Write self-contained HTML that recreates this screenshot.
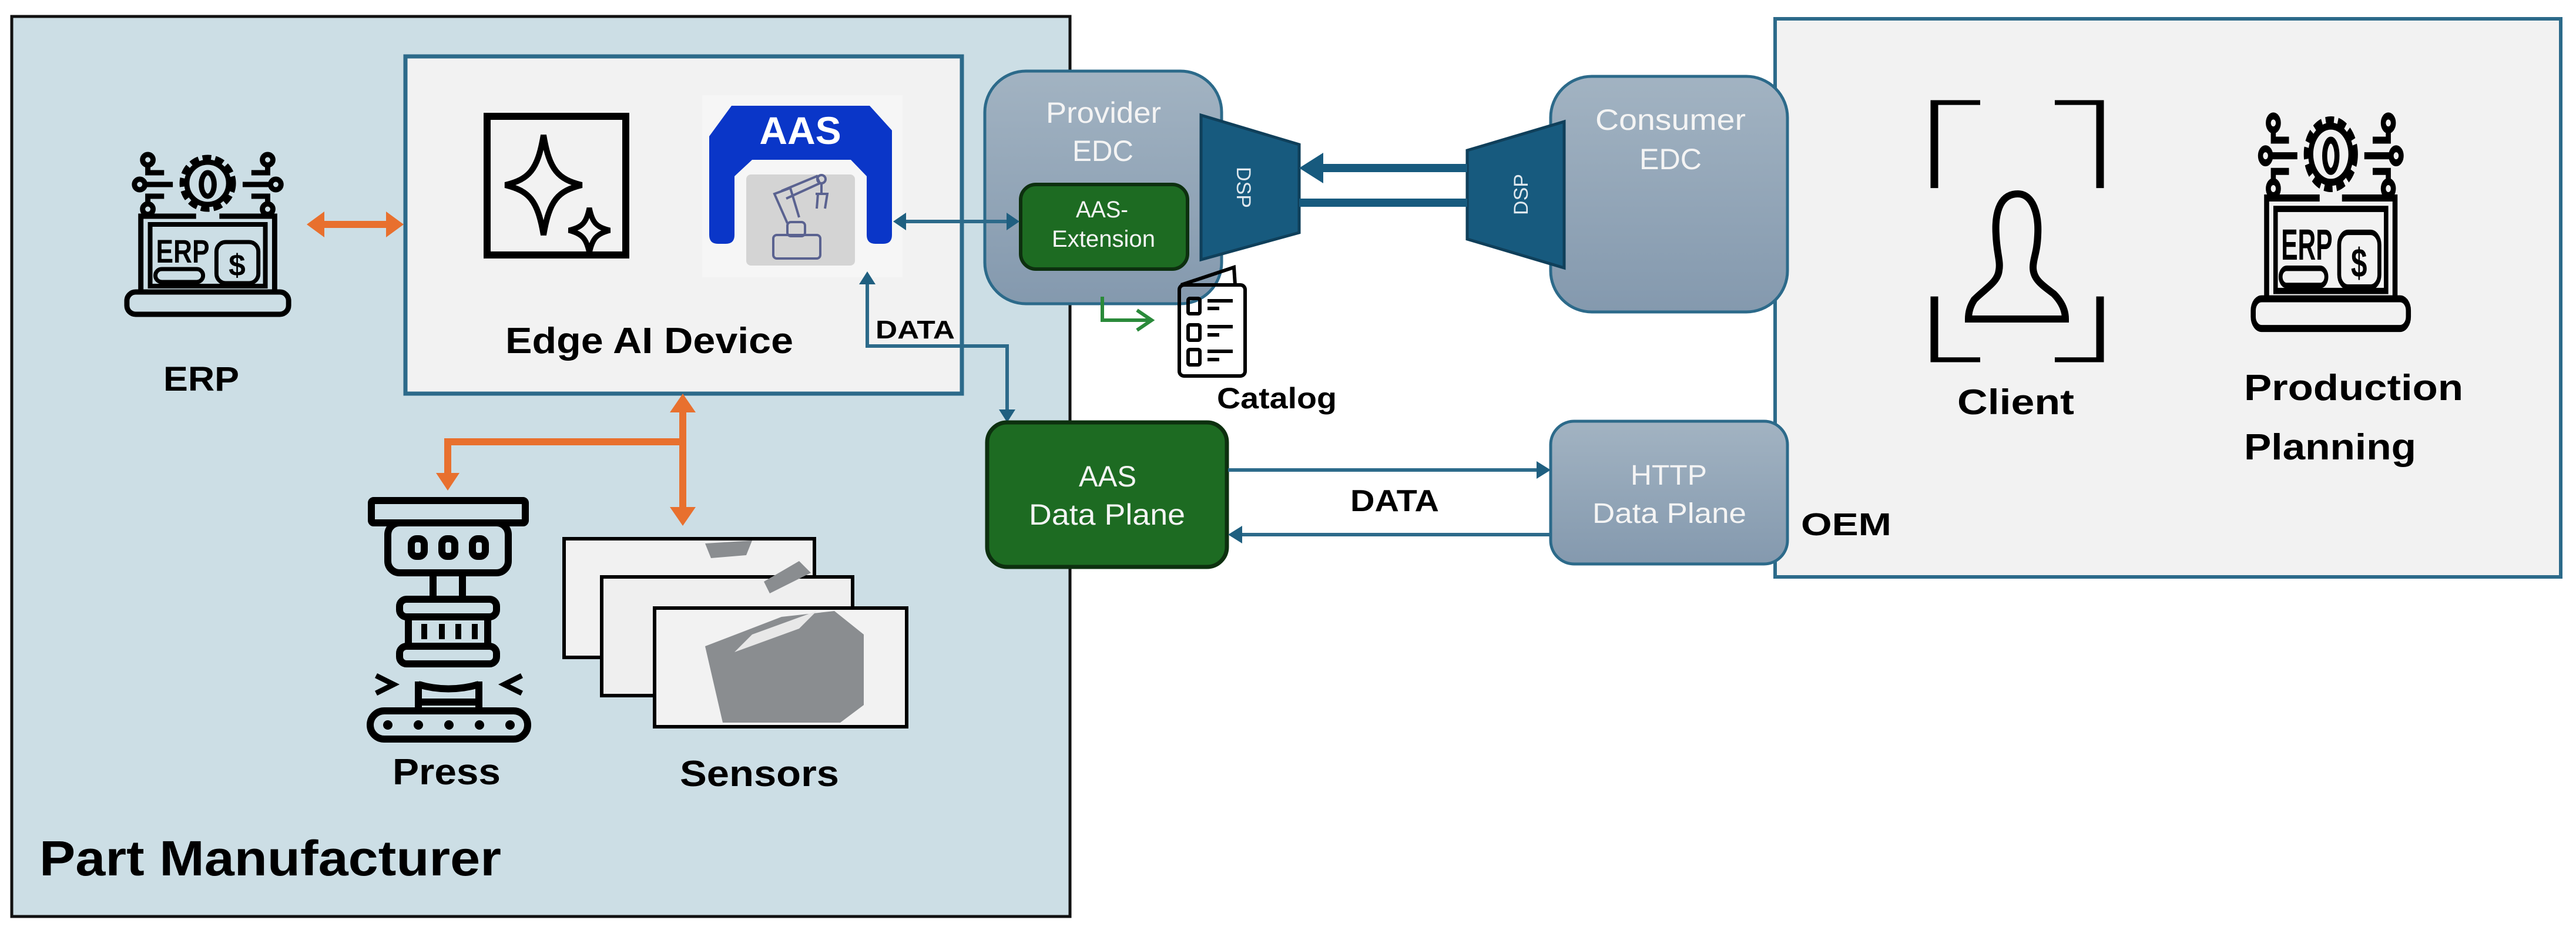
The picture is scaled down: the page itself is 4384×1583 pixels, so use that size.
<!DOCTYPE html>
<html><head><meta charset="utf-8"><style>
html,body{margin:0;padding:0;background:#fff}
svg{display:block}
text{font-family:"Liberation Sans",sans-serif}
.b{font-weight:bold;fill:#000}
.w{fill:#f4f4f4}
</style></head><body>
<svg width="4384" height="1583" viewBox="0 0 4384 1583" xmlns="http://www.w3.org/2000/svg">
<defs>
<linearGradient id="edc" x1="0" y1="0" x2="0" y2="1"><stop offset="0" stop-color="#a2b3c2"/><stop offset="1" stop-color="#8499ae"/></linearGradient>
<g id="erp">
<g fill="none" stroke="#000" stroke-width="9">
<circle cx="145" cy="50" r="44" stroke-dasharray="15 7"/><circle cx="145" cy="50" r="36"/><ellipse cx="145" cy="52" rx="11" ry="20"/>
<circle cx="42" cy="10" r="9"/><circle cx="28" cy="52" r="9"/><circle cx="42" cy="94" r="9"/>
<path d="M42,19 L42,32 L70,32 M37,52 L85,52 M42,85 L42,72 L70,72"/>
<circle cx="248" cy="10" r="9"/><circle cx="262" cy="52" r="9"/><circle cx="248" cy="94" r="9"/>
<path d="M248,19 L248,32 L220,32 M253,52 L205,52 M248,85 L248,72 L220,72"/>
<path d="M125,106 L30,106 L30,235 M165,106 L260,106 L260,235"/>
<rect x="46" y="120" width="198" height="105" stroke-width="8"/>
<rect x="6" y="235" width="278" height="38" rx="15"/>
<rect x="55" y="196" width="82" height="22" rx="11" stroke-width="7"/>
<rect x="160" y="150" width="72" height="70" rx="16" stroke-width="7"/>
</g>
<text x="56" y="185" font-size="56" font-weight="bold" fill="#000" textLength="92" lengthAdjust="spacingAndGlyphs">ERP</text>
<text x="181" y="207" font-size="52" font-weight="bold" fill="#000">$</text>
</g>
</defs>

<rect x="20" y="28" width="1801" height="1532" fill="#ccdee5" stroke="#111" stroke-width="5"/>
<rect x="3021" y="32" width="1337" height="950" fill="#f2f2f2" stroke="#2c6a8a" stroke-width="6"/>

<rect x="690" y="96" width="947" height="574" fill="#f2f2f2" stroke="#2c6a8a" stroke-width="7"/>
<rect x="829" y="198" width="236" height="236" fill="none" stroke="#000" stroke-width="12"/>
<path d="M925,270 C935,330 950,345 990,355 C950,365 935,380 925,440 C915,380 900,365 860,355 C900,345 915,330 925,270Z" fill="none" stroke="#000" stroke-width="10" transform="translate(0,-40)"/>
<path d="M1003,360 C1008,385 1015,393 1038,398 C1015,404 1008,412 1003,437 C998,412 991,404 968,398 C991,393 998,385 1003,360Z" fill="none" stroke="#000" stroke-width="9" transform="translate(0,-6)"/>
<rect x="1195" y="162" width="341" height="310" fill="#f6f6f6"/>
<path d="M1207,232 L1245,180 L1480,180 L1518,222 L1518,400 Q1518,415 1503,415 L1490,415 Q1475,415 1475,400 L1475,300 L1448,272 L1280,272 L1250,300 L1250,400 Q1250,415 1235,415 L1222,415 Q1207,415 1207,400 Z" fill="#0a36c8"/>
<text x="1362" y="245" font-size="66" font-weight="bold" fill="#fff" text-anchor="middle">AAS</text>
<rect x="1270" y="297" width="185" height="155" rx="8" fill="#d4d4d4"/>
<g fill="none" stroke="#5a6290" stroke-width="4">
<rect x="1316" y="400" width="80" height="40" rx="6"/><rect x="1340" y="378" width="30" height="24" rx="6"/>
<path d="M1340,380 L1318,330 L1345,320 L1360,370"/><path d="M1330,325 L1390,300 L1395,312 L1338,338"/>
<circle cx="1398" cy="305" r="7"/><path d="M1398,312 L1398,330 M1388,330 L1408,330 L1404,355 M1392,330 L1390,355"/>
</g>
<text x="860" y="601" class="b" font-size="62" textLength="490" lengthAdjust="spacingAndGlyphs">Edge AI Device</text>

<use href="#erp" transform="translate(210,262) scale(0.99,1.0)"/>
<text x="278" y="665" class="b" font-size="58" textLength="129" lengthAdjust="spacingAndGlyphs">ERP</text>

<line x1="540" y1="382" x2="670" y2="382" stroke="#e8702e" stroke-width="12"/>
<path d="M522,382 L552,360 L552,404Z M687,382 L657,360 L657,404Z" fill="#e8702e"/>

<path d="M1162,690 L1162,875 M1162,752 L762,752 L762,815" fill="none" stroke="#e8702e" stroke-width="12"/>
<path d="M1162,670 L1140,702 L1184,702Z M1162,895 L1140,863 L1184,863Z M762,835 L742,805 L782,805Z" fill="#e8702e"/>

<g fill="none" stroke="#000" stroke-width="12">
<rect x="632" y="852" width="262" height="38" rx="4"/>
<rect x="660" y="890" width="205" height="85" rx="20"/>
<rect x="700" y="917" width="22" height="30" rx="9"/><rect x="752" y="917" width="22" height="30" rx="9"/><rect x="804" y="917" width="22" height="30" rx="9"/>
<rect x="737" y="975" width="50" height="45"/>
<rect x="680" y="1020" width="165" height="30" rx="12"/>
<rect x="695" y="1050" width="135" height="50"/>
<rect x="680" y="1100" width="165" height="30" rx="12"/>
<path d="M722,1062 L722,1088 M752,1062 L752,1088 M780,1062 L780,1088 M808,1062 L808,1088" stroke-width="10"/>
<path d="M712,1160 L712,1210 M815,1160 L815,1210 M712,1165 Q763,1180 815,1165 M712,1195 L815,1195"/>
<path d="M640,1150 L670,1165 L640,1180 M888,1150 L858,1165 L888,1180" stroke-width="9"/>
<rect x="630" y="1210" width="268" height="48" rx="24"/>
</g>
<g fill="#000"><circle cx="660" cy="1234" r="8"/><circle cx="712" cy="1234" r="8"/><circle cx="764" cy="1234" r="8"/><circle cx="816" cy="1234" r="8"/><circle cx="868" cy="1234" r="8"/></g>
<text x="668" y="1335" class="b" font-size="62" textLength="184" lengthAdjust="spacingAndGlyphs">Press</text>

<g stroke="#000" stroke-width="6">
<rect x="960" y="917" width="426" height="202" fill="#f1f1f1"/>
<rect x="1024" y="982" width="427" height="202" fill="#efefef"/>
<rect x="1114" y="1035" width="429" height="202" fill="#f2f2f2"/>
</g>
<path d="M1230,1230 L1200,1100 L1330,1050 L1420,1040 L1470,1080 L1470,1200 L1430,1230Z" fill="#8a8d90"/>
<path d="M1250,1110 L1360,1070 L1390,1040 L1280,1080Z" fill="#e8e8e8"/>
<path d="M1300,990 L1360,955 L1380,975 L1310,1010Z" fill="#8a8d90"/>
<path d="M1200,925 L1280,920 L1270,945 L1210,950Z" fill="#8a8d90"/>
<text x="1157" y="1338" class="b" font-size="62" textLength="271" lengthAdjust="spacingAndGlyphs">Sensors</text>

<text x="67" y="1490" class="b" font-size="84" textLength="786" lengthAdjust="spacingAndGlyphs">Part Manufacturer</text>

<rect x="1676" y="121" width="403" height="396" rx="70" fill="url(#edc)" stroke="#2c6a8a" stroke-width="5"/>
<text x="1780" y="209" class="w" font-size="50" textLength="196" lengthAdjust="spacingAndGlyphs">Provider</text>
<text x="1825" y="274" class="w" font-size="50" textLength="104" lengthAdjust="spacingAndGlyphs">EDC</text>
<rect x="1737" y="314" width="284" height="144" rx="26" fill="#1d6b22" stroke="#0d300f" stroke-width="6"/>
<text x="1831" y="370" class="w" font-size="40" textLength="89" lengthAdjust="spacingAndGlyphs">AAS-</text>
<text x="1790" y="420" class="w" font-size="40" textLength="176" lengthAdjust="spacingAndGlyphs">Extension</text>
<path d="M2044,196 L2211,246 L2211,396 L2044,442Z" fill="#175a7e" stroke="#0f3f5a" stroke-width="5"/>
<text transform="translate(2105,319) rotate(90)" font-size="34" text-anchor="middle" fill="#dfe8ee">DSP</text>
<rect x="2639" y="130" width="403" height="401" rx="70" fill="url(#edc)" stroke="#2c6a8a" stroke-width="5"/>
<text x="2715" y="221" class="w" font-size="50" textLength="256" lengthAdjust="spacingAndGlyphs">Consumer</text>
<text x="2790" y="288" class="w" font-size="50" textLength="106" lengthAdjust="spacingAndGlyphs">EDC</text>
<path d="M2662,207 L2497,256 L2497,407 L2662,456Z" fill="#175a7e" stroke="#0f3f5a" stroke-width="5"/>
<text transform="translate(2600,331) rotate(-90)" font-size="34" text-anchor="middle" fill="#dfe8ee">DSP</text>
<line x1="2497" y1="286" x2="2240" y2="286" stroke="#175a7e" stroke-width="14"/>
<path d="M2211,286 L2252,260 L2252,312Z" fill="#175a7e"/>
<line x1="2211" y1="345" x2="2497" y2="345" stroke="#175a7e" stroke-width="14"/>

<line x1="1535" y1="377" x2="1715" y2="377" stroke="#2c6a8a" stroke-width="6"/>
<path d="M1520,377 L1542,362 L1542,392Z M1735,377 L1713,362 L1713,392Z" fill="#1f5f80"/>

<path d="M1876,505 L1876,545 L1955,545" fill="none" stroke="#2a8a3a" stroke-width="6"/>
<path d="M1935,528 L1960,545 L1935,562" fill="none" stroke="#2a8a3a" stroke-width="6"/>
<g fill="none" stroke="#000" stroke-width="6">
<path d="M2010,485 L2100,455 L2102,485"/>
<rect x="2007" y="485" width="112" height="155" rx="8"/>
<rect x="2022" y="508" width="20" height="26" rx="3"/><rect x="2022" y="553" width="20" height="26" rx="3"/><rect x="2022" y="595" width="20" height="26" rx="3"/>
<path d="M2055,512 L2098,512 M2055,525 L2075,525 M2055,556 L2098,556 M2055,570 L2075,570 M2055,598 L2098,598 M2055,612 L2075,612"/>
</g>
<text x="2071" y="695" class="b" font-size="50" textLength="204" lengthAdjust="spacingAndGlyphs">Catalog</text>

<path d="M1476,480 L1476,589 L1714,589 L1714,700" fill="none" stroke="#2c6a8a" stroke-width="6"/>
<path d="M1476,462 L1462,484 L1490,484Z M1714,719 L1700,697 L1728,697Z" fill="#1f5f80"/>
<text x="1490" y="576" class="b" font-size="44" textLength="135" lengthAdjust="spacingAndGlyphs">DATA</text>

<rect x="1680" y="719" width="408" height="246" rx="34" fill="#1d6b22" stroke="#0d300f" stroke-width="7"/>
<text x="1836" y="828" class="w" font-size="50" textLength="98" lengthAdjust="spacingAndGlyphs">AAS</text>
<text x="1751" y="893" class="w" font-size="50" textLength="266" lengthAdjust="spacingAndGlyphs">Data Plane</text>
<rect x="2639" y="717" width="403" height="243" rx="40" fill="url(#edc)" stroke="#2c6a8a" stroke-width="5"/>
<text x="2775" y="825" class="w" font-size="48" textLength="130" lengthAdjust="spacingAndGlyphs">HTTP</text>
<text x="2710" y="890" class="w" font-size="48" textLength="262" lengthAdjust="spacingAndGlyphs">Data Plane</text>
<line x1="2090" y1="800" x2="2620" y2="800" stroke="#2c6a8a" stroke-width="6"/>
<path d="M2639,800 L2615,785 L2615,815Z" fill="#1f5f80"/>
<line x1="2110" y1="910" x2="2639" y2="910" stroke="#2c6a8a" stroke-width="6"/>
<path d="M2090,910 L2114,895 L2114,925Z" fill="#1f5f80"/>
<text x="2298" y="870" class="b" font-size="52" textLength="151" lengthAdjust="spacingAndGlyphs">DATA</text>

<text x="3065" y="911" class="b" font-size="54" textLength="154" lengthAdjust="spacingAndGlyphs">OEM</text>

<g fill="none" stroke="#000" stroke-width="13">
<path d="M3370,181 L3292,181 L3292,412 M3497,181 L3574,181 L3574,412 M3292,705 L3292,876 L3370,876 M3574,705 L3574,876 L3497,876" transform="translate(0,-5) scale(1,0.63) translate(0,104)"/>
</g>
<path d="M3434,340 C3400,340 3395,380 3397,410 C3398,440 3405,455 3402,470 C3400,490 3380,500 3360,520 C3350,535 3350,550 3350,553 L3515,553 C3515,540 3510,525 3495,510 C3475,495 3460,485 3460,465 C3460,450 3467,440 3468,410 C3470,375 3460,340 3434,340Z" fill="none" stroke="#000" stroke-width="12" transform="translate(0,-10)"/>
<text x="3331" y="705" class="b" font-size="60" textLength="199" lengthAdjust="spacingAndGlyphs">Client</text>

<use href="#erp" transform="translate(3829,196) scale(0.95,1.33)"/>
<text x="3819" y="681" class="b" font-size="62" textLength="373" lengthAdjust="spacingAndGlyphs">Production</text>
<text x="3819" y="782" class="b" font-size="62" textLength="293" lengthAdjust="spacingAndGlyphs">Planning</text>
</svg>
</body></html>
